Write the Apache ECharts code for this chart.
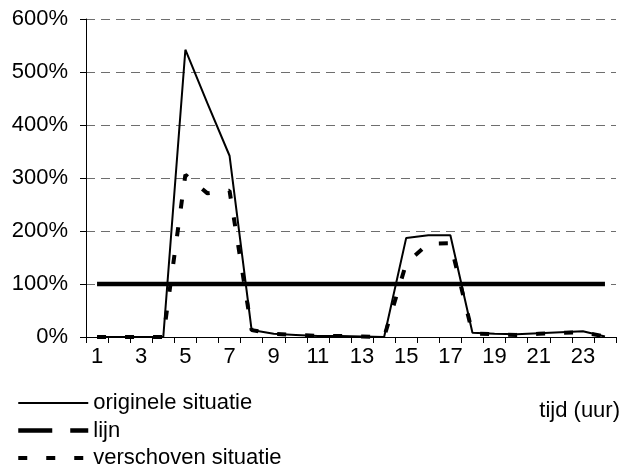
<!DOCTYPE html>
<html>
<head>
<meta charset="utf-8">
<style>
  html, body { margin: 0; padding: 0; background: #ffffff; }
  #chart { width: 628px; height: 474px; }
</style>
<script src="https://cdn.jsdelivr.net/npm/echarts@6/dist/echarts.min.js"></script>
</head>
<body>
<div id="chart"></div>
<script>
// Hours of the day (x categories)
const hours = ['1','2','3','4','5','6','7','8','9','10','11','12',
               '13','14','15','16','17','18','19','20','21','22','23','24'];

// Load per hour as a percentage of the reference line
const origineleSituatie = [0, 0, 0, 0, 542, 441, 342, 13, 6, 4, 2, 2,
                           1, 0, 187, 192, 192, 8, 6, 5, 7, 9, 11, 1];
const lijn = [100, 100, 100, 100, 100, 100, 100, 100, 100, 100, 100, 100,
              100, 100, 100, 100, 100, 100, 100, 100, 100, 100, 100, 100];
const verschovenSituatie = [0, 0, 0, 0, 306, 271, 276, 13, 6, 4, 2, 2,
                            1, 0, 139, 176, 177, 7, 5, 4, 6, 8, 9, 1];

const seriesNames = ['originele situatie', 'lijn', 'verschoven situatie'];
const axisTitle = 'tijd (uur)';

const FONT = 'Liberation Sans, Arial, sans-serif';
const chart = echarts.init(document.getElementById('chart'), null, { renderer: 'canvas' });

// Legend keys are plain line samples (no point markers)
const noMarker = { opacity: 0, borderWidth: 0 };

chart.setOption({
  animation: false,
  backgroundColor: '#ffffff',
  textStyle: { fontFamily: FONT, color: '#000' },
  title: {
    text: axisTitle,
    right: 8,
    top: 400,
    padding: 0,
    textStyle: { fontFamily: FONT, fontSize: 22, fontWeight: 'normal', color: '#000' }
  },
  legend: {
    orient: 'vertical',
    left: 16,
    top: 392,
    padding: 0,
    itemWidth: 70,
    itemHeight: 14,
    itemGap: 5.5,
    itemStyle: noMarker,
    textStyle: { fontFamily: FONT, fontSize: 22, color: '#000', lineHeight: 22 },
    data: [
      { name: seriesNames[0], itemStyle: noMarker,
        lineStyle: { width: 2, type: 'solid', color: '#000' } },
      { name: seriesNames[1], itemStyle: noMarker,
        lineStyle: { width: 4.5, type: [34, 18], color: '#000', cap: 'butt' } },
      { name: seriesNames[2], itemStyle: noMarker,
        lineStyle: { width: 4, type: [9, 19], color: '#000', cap: 'butt' } }
    ]
  },
  grid: { left: 86, right: 12, top: 19, bottom: 137, containLabel: false },
  xAxis: {
    type: 'category',
    data: hours,
    boundaryGap: true,
    axisLine: { lineStyle: { color: '#000', width: 1 } },
    axisTick: { show: true, interval: 0, length: 6, lineStyle: { color: '#000' } },
    axisLabel: { interval: 1, margin: 9, fontSize: 22, color: '#000', fontFamily: FONT },
    splitLine: { show: false }
  },
  yAxis: {
    type: 'value',
    min: 0,
    max: 600,
    interval: 100,
    axisLine: { show: true, lineStyle: { color: '#000', width: 1 } },
    axisTick: { show: true, length: 6, lineStyle: { color: '#000' } },
    axisLabel: { formatter: '{value}%', margin: 18, fontSize: 22, color: '#000', fontFamily: FONT },
    splitLine: { show: true, lineStyle: { color: '#6e6e6e', width: 1, type: [9, 6] } }
  },
  series: [
    {
      name: seriesNames[0],
      type: 'line',
      data: origineleSituatie,
      symbol: 'none',
      lineStyle: { color: '#000', width: 2 },
      itemStyle: { color: '#000' },
      z: 3
    },
    {
      name: seriesNames[1],
      type: 'line',
      data: lijn,
      symbol: 'none',
      lineStyle: { color: '#000', width: 4.5 },
      itemStyle: { color: '#000' },
      z: 4
    },
    {
      name: seriesNames[2],
      type: 'line',
      data: verschovenSituatie,
      symbol: 'none',
      lineStyle: { color: '#000', width: 4, type: [9, 19], cap: 'butt' },
      itemStyle: { color: '#000' },
      z: 5
    }
  ]
});
</script>
</body>
</html>
